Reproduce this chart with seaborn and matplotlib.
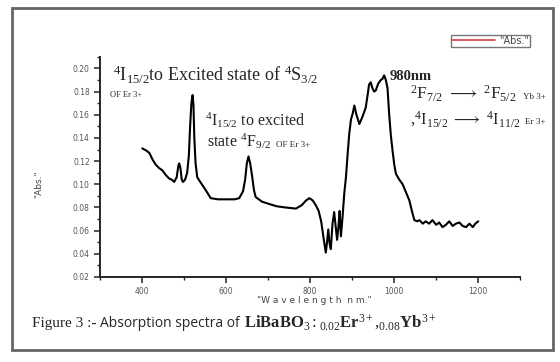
import matplotlib
matplotlib.use("Agg")
import matplotlib.pyplot as plt
import seaborn as sns
import pandas as pd
from matplotlib.patches import Rectangle
from matplotlib.ticker import MultipleLocator

# === data ===
wavelength = [
    400, 410, 417, 425, 432, 440, 448, 456, 464, 470, 476, 482, 486, 488, 491,
    494, 497, 502, 507, 511, 514, 517, 520, 522, 524, 527, 531, 540, 551, 563,
    580, 600, 620, 631, 640, 645, 649, 653, 657, 662, 666, 670, 685, 702, 720,
    740, 766, 780, 790, 798, 806, 813, 820, 826, 830, 834, 837, 840, 843, 846,
    849, 853, 857, 861, 864, 867, 870, 873, 877, 881, 885, 889, 893, 897, 901,
    905, 910, 917, 924, 932, 937, 940, 944, 948, 952, 956, 962, 968, 972, 976,
    980, 984, 988, 992, 996, 1000, 1004, 1012, 1020, 1028, 1036, 1042, 1048,
    1055, 1060, 1068, 1075, 1083, 1091, 1100, 1107, 1115, 1123, 1131, 1139,
    1147, 1155, 1163, 1171, 1179, 1187, 1193, 1200,
]
absorbance = [
    0.131, 0.129, 0.127, 0.121, 0.117, 0.114, 0.112, 0.108, 0.105, 0.104,
    0.102, 0.106, 0.116, 0.118, 0.114, 0.104, 0.102, 0.104, 0.110, 0.125,
    0.150, 0.170, 0.177, 0.168, 0.140, 0.118, 0.106, 0.101, 0.095, 0.088,
    0.087, 0.087, 0.087, 0.088, 0.094, 0.104, 0.118, 0.124, 0.118, 0.106,
    0.095, 0.089, 0.085, 0.083, 0.081, 0.080, 0.079, 0.082, 0.086, 0.088,
    0.086, 0.082, 0.077, 0.068, 0.058, 0.048, 0.041, 0.050, 0.061, 0.049,
    0.044, 0.066, 0.076, 0.062, 0.052, 0.063, 0.077, 0.055, 0.072, 0.092,
    0.106, 0.126, 0.144, 0.156, 0.161, 0.168, 0.160, 0.152, 0.158, 0.166,
    0.178, 0.186, 0.188, 0.183, 0.180, 0.181, 0.187, 0.190, 0.191, 0.194,
    0.190, 0.183, 0.160, 0.142, 0.129, 0.117, 0.109, 0.104, 0.100, 0.093,
    0.086, 0.077, 0.069, 0.068, 0.069, 0.066, 0.068, 0.066, 0.069, 0.065,
    0.067, 0.063, 0.065, 0.068, 0.064, 0.066, 0.067, 0.064, 0.063, 0.066,
    0.063, 0.066, 0.068,
]
x_ticks = [400, 600, 800, 1000, 1200]
y_ticks = [0.02, 0.04, 0.06, 0.08, 0.10, 0.12, 0.14, 0.16, 0.18, 0.20]

df = pd.DataFrame({"Wavelength": wavelength, "Abs": absorbance})

# === style ===
sns.set_style("ticks")
plt.rcParams["font.family"] = ["Liberation Serif", "DejaVu Serif"]
plt.rcParams["mathtext.fontset"] = "custom"
plt.rcParams["mathtext.rm"] = "Liberation Serif"
plt.rcParams["mathtext.it"] = "Liberation Serif:italic"
plt.rcParams["mathtext.bf"] = "Liberation Serif:bold"

fig = plt.figure(figsize=(5.6, 3.62), dpi=100)
ax = fig.add_axes([0.179, 0.235, 0.75, 0.608])

sns.lineplot(data=df, x="Wavelength", y="Abs", color="black", linewidth=1.5,
             ax=ax, label='"Abs."')

ax.set_xlim(300, 1300)
ax.set_ylim(0.02, 0.21)
ax.set_xticks(x_ticks)
ax.set_yticks(y_ticks)
ax.set_yticklabels([f"{v:.2f}" for v in y_ticks])
ax.xaxis.set_minor_locator(MultipleLocator(100))
ax.yaxis.set_minor_locator(MultipleLocator(0.01))
ax.tick_params(which="major", direction="out", length=4, width=1.2,
               labelsize=5.5, labelcolor="#555555", colors="#333333")
ax.tick_params(which="minor", direction="out", length=2, width=1)
for lbl in ax.get_xticklabels() + ax.get_yticklabels():
    lbl.set_family("DejaVu Sans")
sns.despine(ax=ax)
ax.spines["left"].set_linewidth(1.4)
ax.spines["bottom"].set_linewidth(1.4)

ax.set_xlabel('"W a v e l e n g t h  n m."', family="DejaVu Sans",
              fontsize=6.5, color="#444444")
ax.set_ylabel('"Abs."', family="DejaVu Sans", fontsize=6.5, color="#444444")
ax.xaxis.set_label_coords(0.51, -0.085)
ax.yaxis.set_label_coords(-0.135, 0.42)

leg = ax.legend(loc="upper right", bbox_to_anchor=(1.024, 1.1), fontsize=7,
                frameon=True, fancybox=False, handlelength=4.5,
                borderpad=0.1, handletextpad=0.4, borderaxespad=0)
leg.get_frame().set_edgecolor("#555555")
leg.get_frame().set_linewidth(1.0)
for t in leg.get_texts():
    t.set_family("DejaVu Sans")
    t.set_color("#444444")
for h in leg.get_lines():
    h.set_color("#d04040")
    h.set_linewidth(1.2)

# === annotations ===
fig.text(113 / 560, 1 - 81 / 362,
         r"$^{4}$I$_{15/2}$to Excited state of $^{4}$S$_{3/2}$", fontsize=13)
fig.text(110 / 560, 1 - 97 / 362, "OF Er 3+", fontsize=6)
fig.text(205 / 560, 1 - 126 / 362, r"$^{4}$I$_{15/2}$ to excited", fontsize=11.5)
fig.text(207 / 560, 1 - 147 / 362, r"state $^{4}$F$_{9/2}$", fontsize=11.5)
fig.text(276 / 560, 1 - 147 / 362, "OF Er 3+", fontsize=6.5)
fig.text(390 / 560, 1 - 80 / 362, "980nm", fontsize=10.5, fontweight="bold")
fig.text(410 / 560, 1 - 99 / 362,
         r"$^{2}$F$_{7/2}$ $\longrightarrow$ $^{2}$F$_{5/2}$", fontsize=12.5)
fig.text(523 / 560, 1 - 99 / 362, "Yb 3+", fontsize=6.5)
fig.text(410 / 560, 1 - 124 / 362,
         r",$^{4}$I$_{15/2}$ $\longrightarrow$ $^{4}$I$_{11/2}$", fontsize=12)
fig.text(525 / 560, 1 - 124 / 362, "Er 3+", fontsize=6.5)

# caption
fig.text(32 / 560, 1 - 327 / 362, "Figure 3 :-", fontsize=11)
fig.text(100 / 560, 1 - 327 / 362, "Absorption spectra of", fontsize=10,
         family=["Open Sans", "DejaVu Sans"])
fig.text(244 / 560, 1 - 327 / 362,
         r"$\mathbf{LiBaBO}_{3}\mathrm{:}_{0.02}\mathbf{Er}^{3+}"
         r"\mathrm{,}_{0.08}\mathbf{Yb}^{3+}$",
         fontsize=12)

# outer frame
fig.patches.append(Rectangle((12 / 560, 1 - 350 / 362), 541 / 560, 342 / 362,
                             transform=fig.transFigure, fill=False,
                             edgecolor="#666666", linewidth=2))

fig.savefig("out.png", dpi=100)
